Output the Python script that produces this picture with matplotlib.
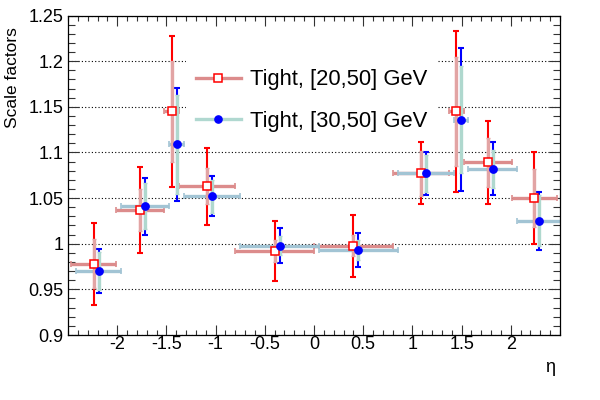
import matplotlib
matplotlib.use("Agg")
import matplotlib.pyplot as plt
from matplotlib.lines import Line2D
from matplotlib.ticker import MultipleLocator, FixedLocator, FuncFormatter
import numpy

# eta bins
eta_edges = [-2.47, -2.01, -1.52, -1.37, -0.8, 0.0, 0.8, 1.37, 1.52, 2.01, 2.47]
eta_ticks = [-2, -1.5, -1, -0.5, 0, 0.5, 1, 1.5, 2]

# Tight, [20,50] GeV
sf_20 = [0.978, 1.037, 1.145, 1.063, 0.992, 0.998, 1.077, 1.145, 1.089, 1.050]
tot_20 = [0.045, 0.047, 0.083, 0.042, 0.033, 0.034, 0.034, 0.088, 0.045, 0.050]
stat_20 = [0.027, 0.023, 0.055, 0.020, 0.012, 0.011, 0.025, 0.060, 0.027, 0.032]

# Tight, [30,50] GeV
sf_30 = [0.970, 1.041, 1.109, 1.052, 0.998, 0.993, 1.077, 1.136, 1.082, 1.025]
tot_30 = [0.024, 0.031, 0.062, 0.022, 0.019, 0.019, 0.024, 0.078, 0.029, 0.032]
stat_30 = [0.021, 0.025, 0.054, 0.018, 0.010, 0.011, 0.020, 0.059, 0.021, 0.028]

labels = ["Tight, [20,50] GeV", "Tight, [30,50] GeV"]

plt.rcParams["font.family"] = ["Liberation Sans", "DejaVu Sans"]
plt.rcParams["axes.unicode_minus"] = False

edges = numpy.array(eta_edges)
centers = 0.5 * (edges[1:] + edges[:-1])
halfw = 0.5 * (edges[1:] - edges[:-1])

fig = plt.figure(figsize=(6, 4), dpi=100)
ax = fig.add_axes([68 / 600, 65 / 400, 492 / 600, 319.5 / 400])


def draw(shift, sf, tot, stat, col, pale_h, pale_v, marker, mfc):
    x = centers + shift
    ax.errorbar(x, sf, xerr=halfw, fmt="none", ecolor=pale_h, elinewidth=2.4,
                capsize=2.2, capthick=1.2, zorder=2)
    ax.errorbar(x, sf, yerr=tot, fmt="none", ecolor=col, elinewidth=1.5,
                capsize=2.4, capthick=1.5, zorder=3)
    ax.errorbar(x, sf, yerr=stat, fmt="none", ecolor=pale_v, elinewidth=2.4,
                capsize=1.6, capthick=1.0, zorder=4)
    ax.plot(x, sf, linestyle="none", marker=marker, ms=5.2, mfc=mfc,
            mec=col, mew=1.1, zorder=5)


draw(0.0, sf_20, tot_20, stat_20, "#ff0000", "#dc8c8c", "#e2a4a4", "s", "white")
draw(0.05, sf_30, tot_30, stat_30, "#0000ff", "#a2c4d4", "#afd8ce", "o", "#0000ff")

ax.set_xlim(-2.5, 2.5)
ax.set_ylim(0.9, 1.25)
ax.xaxis.set_major_locator(FixedLocator(eta_ticks))
ax.xaxis.set_minor_locator(MultipleLocator(0.1))
ax.yaxis.set_major_locator(MultipleLocator(0.05))
ax.yaxis.set_minor_locator(MultipleLocator(0.01))
ax.xaxis.set_major_formatter(FuncFormatter(lambda v, p: f"{v:g}"))
ax.yaxis.set_major_formatter(FuncFormatter(lambda v, p: f"{round(v, 3):g}"))

ax.tick_params(which="both", direction="in", top=True, right=True,
               color="#333333", width=0.8, labelsize=13)
ax.tick_params(axis="x", which="major", length=7.5, pad=1)
ax.tick_params(axis="x", which="minor", length=3.6)
ax.tick_params(axis="y", which="major", length=8, pad=3)
ax.tick_params(axis="y", which="minor", length=5)
for s in ax.spines.values():
    s.set_linewidth(0.9)

ax.set_axisbelow(True)
ax.grid(axis="y", which="major", linestyle=(0, (1, 2)), color="black", linewidth=0.8)

ax.set_xlabel("η", fontsize=13, ha="right", va="baseline")
ax.xaxis.set_label_coords(0.99, -0.116)
ax.set_ylabel("Scale factors", fontsize=12.5, ha="center", va="top",
              rotation_mode="default")
ax.yaxis.set_label_coords(-0.113, 0.965)

handles = [
    Line2D([], [], color="#dc8c8c", lw=2.4, marker="s", ms=5.2, mfc="white",
           mec="#ff0000", mew=1.1),
    Line2D([], [], color="#b0d8d0", lw=2.4, marker="o", ms=5.2, mfc="#0000ff",
           mec="#0000ff"),
]
leg = ax.legend(handles, labels, loc="upper left", bbox_to_anchor=(0.24, 0.862),
                fontsize=15.8, frameon=True, fancybox=False, edgecolor="none",
                facecolor="white", framealpha=1, handlelength=2.05,
                handletextpad=0.42, labelspacing=0.92, borderpad=0.45,
                borderaxespad=0)
leg.set_zorder(1)

fig.savefig("out.png", dpi=100)
